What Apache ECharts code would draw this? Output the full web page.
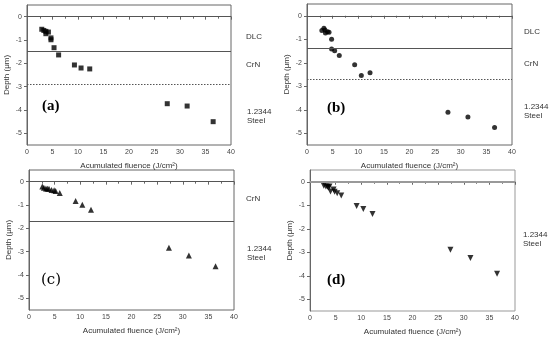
<!DOCTYPE html>
<html><head><meta charset="utf-8">
<script src="https://cdn.jsdelivr.net/npm/echarts@6/dist/echarts.min.js"></script>
<style>html,body{margin:0;padding:0;background:#fff}#c{width:550px;height:338px}</style>
</head><body><div id="c"></div>
<script>
const fluenceA = [2.9,3.3,3.7,3.7,4.2,4.7,4.7,5.3,6.2,9.3,10.6,12.3,27.5,31.4,36.5];
const depthA   = [-0.54,-0.59,-0.63,-0.73,-0.66,-0.91,-0.99,-1.33,-1.64,-2.07,-2.2,-2.24,-3.73,-3.83,-4.5];
const fluenceB = [2.9,3.3,3.5,3.6,4.0,4.3,4.8,4.8,5.4,6.3,9.3,10.6,12.3,27.5,31.4,36.6];
const depthB   = [-0.63,-0.53,-0.61,-0.73,-0.68,-0.7,-1.0,-1.41,-1.49,-1.69,-2.09,-2.54,-2.43,-4.11,-4.31,-4.76];
const fluenceC = [2.6,2.9,3.3,3.6,3.9,4.4,4.9,5.2,6.0,9.1,10.4,12.1,27.3,31.2,36.4];
const depthC   = [-0.21,-0.26,-0.29,-0.3,-0.3,-0.36,-0.37,-0.4,-0.49,-0.83,-0.99,-1.2,-2.83,-3.16,-3.63];
const fluenceD = [2.7,3.1,3.4,3.6,3.8,4.0,4.6,4.8,5.3,6.1,9.1,10.4,12.2,27.4,31.3,36.5];
const depthD   = [-0.17,-0.2,-0.21,-0.24,-0.2,-0.41,-0.33,-0.43,-0.49,-0.59,-1.03,-1.16,-1.37,-2.89,-3.24,-3.92];
const boundA = [0,-1.5];  const dottedA = [-2.9];
const boundB = [0,-1.4];  const dottedB = [-2.7];
const boundC = [0,-1.7];  const dottedC = [];
const boundD = [0];       const dottedD = [];
const xTicks = [0,5,10,15,20,25,30,35,40];
const yTicks = [-5,-4,-3,-2,-1,0];
const panelLabels = ['(a)','(b)','(c)','(d)'];
const xName = 'Acumulated fluence (J/cm²)';
const yName = 'Depth (μm)';

const chart = echarts.init(document.getElementById('c'));
const grids = [
  {left:27, top:5, width:204, height:140},
  {left:307, top:4, width:205, height:141},
  {left:29, top:170, width:205, height:140},
  {left:310, top:170, width:205, height:141}
];
const frame = '#666';
const txt = '#444';
const xAxes = grids.map((g,i)=>({
  type:'value', gridIndex:i, min:0, max:40, interval:5,
  name:xName, nameLocation:'middle', nameGap:17,
  nameTextStyle:{fontSize:8, color:'#333', fontFamily:'Liberation Sans'},
  axisLine:{show:true, lineStyle:{color:frame, width:1}},
  axisTick:{show:true, length:3, customValues:xTicks, lineStyle:{color:frame}},
  minorTick:{show:true, splitNumber:2, length:2, lineStyle:{color:frame}},
  axisLabel:{fontSize:7, color:txt, margin:4, customValues:xTicks, fontFamily:'Liberation Sans'},
  splitLine:{show:false}
}));
const yAxes = grids.map((g,i)=>({
  type:'value', gridIndex:i, min:-5.5, max:0.5,
  name:yName, nameLocation:'middle', nameGap:16,
  nameTextStyle:{fontSize:8, color:'#333', fontFamily:'Liberation Sans'},
  axisLine:{show:true, lineStyle:{color:frame, width:1}},
  axisTick:{show:true, length:3, customValues:yTicks, lineStyle:{color:frame}},
  axisLabel:{fontSize:7, color:txt, margin:5, customValues:yTicks, fontFamily:'Liberation Sans'},
  splitLine:{show:false}
}));
function mk(bounds, dotted, zeroStyle){
  const d = [];
  bounds.forEach(v=>d.push({yAxis:v, lineStyle:(v===0&&zeroStyle)?zeroStyle:{color:'#555', width:1, type:'solid'}}));
  dotted.forEach(v=>d.push({yAxis:v, lineStyle:{color:'#555', width:1, type:[1.5,1.5]}}));
  return {symbol:'none', silent:true, label:{show:false}, data:d};
}
function pairs(xs, ys){ return xs.map((x,i)=>[x, ys[i]]); }
const series = [
  {type:'scatter', xAxisIndex:0, yAxisIndex:0, data:pairs(fluenceA,depthA), symbol:'rect', symbolSize:5, itemStyle:{color:'#000'}, markLine:mk(boundA,dottedA)},
  {type:'scatter', xAxisIndex:1, yAxisIndex:1, data:pairs(fluenceB,depthB), symbol:'circle', symbolSize:5, itemStyle:{color:'#000'}, markLine:mk(boundB,dottedB)},
  {type:'scatter', xAxisIndex:2, yAxisIndex:2, data:pairs(fluenceC,depthC), symbol:'triangle', symbolSize:6, itemStyle:{color:'#000'}, markLine:mk(boundC,dottedC)},
  {type:'scatter', xAxisIndex:3, yAxisIndex:3, data:pairs(fluenceD,depthD), symbol:'triangle', symbolRotate:180, symbolSize:6, itemStyle:{color:'#000'}, markLine:mk(boundD,dottedD,{color:'#999', width:2, type:'solid'})}
];
const sideStyle = {fontSize:8, fill:'#333', fontFamily:'Liberation Sans'};
const graphic = [
  {type:'text', left:246, top:33, style:Object.assign({text:'DLC'},sideStyle)},
  {type:'text', left:246, top:61, style:Object.assign({text:'CrN'},sideStyle)},
  {type:'text', left:247, top:107, style:Object.assign({text:'1.2344\nSteel', lineHeight:9},sideStyle)},
  {type:'text', left:524, top:28, style:Object.assign({text:'DLC'},sideStyle)},
  {type:'text', left:524, top:60, style:Object.assign({text:'CrN'},sideStyle)},
  {type:'text', left:524, top:102, style:Object.assign({text:'1.2344\nSteel', lineHeight:9},sideStyle)},
  {type:'text', left:246, top:195, style:Object.assign({text:'CrN'},sideStyle)},
  {type:'text', left:247, top:244, style:Object.assign({text:'1.2344\nSteel', lineHeight:9},sideStyle)},
  {type:'text', left:523, top:230, style:Object.assign({text:'1.2344\nSteel', lineHeight:9},sideStyle)},
  {type:'text', left:42, top:99, style:{text:panelLabels[0], fontSize:15, fontWeight:'bold', fontFamily:'Liberation Serif', fill:'#000'}},
  {type:'text', left:327, top:101, style:{text:panelLabels[1], fontSize:15, fontWeight:'bold', fontFamily:'Liberation Serif', fill:'#000'}},
  {type:'text', left:41, top:273, style:{text:panelLabels[2], fontSize:15, fontFamily:'DejaVu Serif', fill:'#000'}},
  {type:'text', left:327, top:273, style:{text:panelLabels[3], fontSize:15, fontWeight:'bold', fontFamily:'Liberation Serif', fill:'#000'}}
];
const gridOpts = grids.map(g=>Object.assign({show:true, borderColor:frame, borderWidth:1, backgroundColor:'transparent'}, g));
gridOpts[3].borderColor = '#999';
chart.setOption({animation:false, grid:gridOpts, xAxis:xAxes, yAxis:yAxes, series:series, graphic:graphic});
</script></body></html>
